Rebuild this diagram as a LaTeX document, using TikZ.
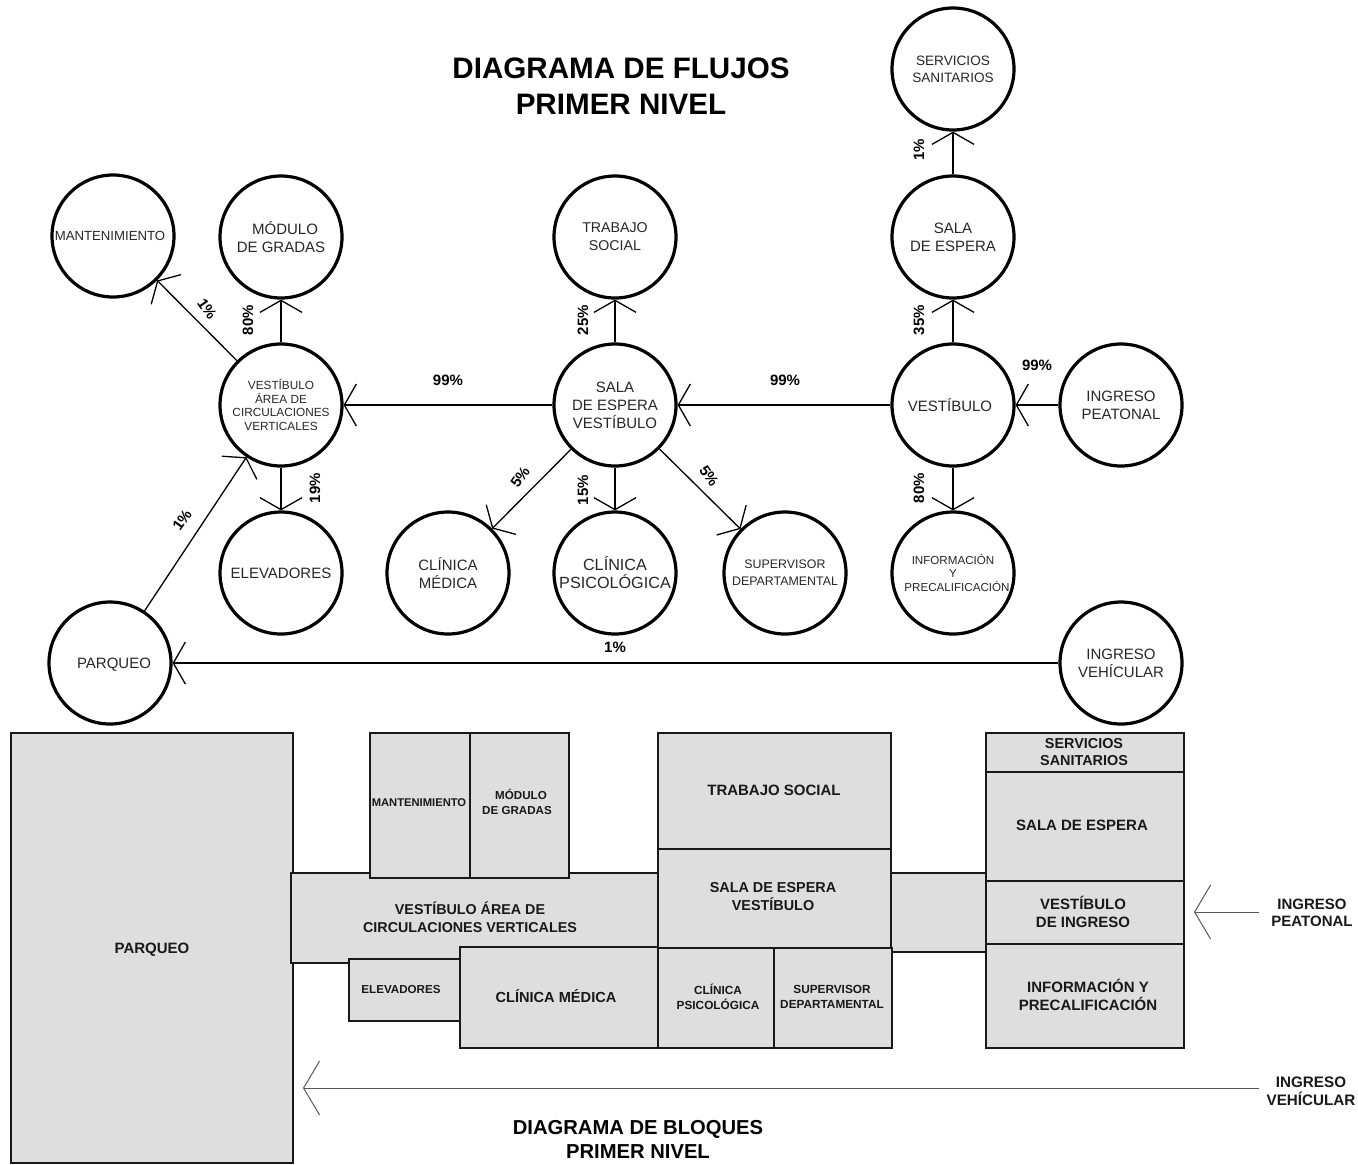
\documentclass[tikz,border=0pt]{standalone}
\usepackage{fontspec}
\setmainfont{Liberation Sans}
\usetikzlibrary{arrows.meta}
\tikzset{
  lugar/.style={draw, circle, line width=1.6pt, minimum size=61pt, inner sep=-5pt, align=center, text=black!85, font=\fontsize{7.5}{9}\selectfont},
  lugarmedio/.style={lugar, font=\fontsize{5.9}{6.7}\selectfont},
  lugarchico/.style={lugar, font=\fontsize{5.8}{6.6}\selectfont},
  flujo/.style={-{Straight Barb[length=6pt,width=21pt]}, line width=.65pt},
  ingreso/.style={-{Straight Barb[length=8pt,width=27pt]}, line width=.5pt, black!65},
  pct/.style={font=\fontsize{7.5}{9}\bfseries\selectfont, inner sep=0pt},
  bloque/.style={fill=black!13, draw=black!90, line width=1pt},
  txt/.style={font=\fontsize{7.5}{9}\bfseries\selectfont, align=center, inner sep=0pt, text=black!90},
  txtchico/.style={txt, font=\fontsize{5.8}{7.4}\bfseries\selectfont},
  titulo/.style={font=\fontsize{14.8}{18}\bfseries\selectfont, align=center, inner sep=0pt},
  subtitulo/.style={font=\fontsize{10.1}{12}\bfseries\selectfont, align=center, inner sep=0pt}
}
\begin{document}
\begin{tikzpicture}[x=0.5pt, y=-0.5pt]
\useasboundingbox (0, 0) rectangle (1358, 1164);

\node[titulo] (flujos) at (621, 86) {DIAGRAMA DE FLUJOS\\PRIMER NIVEL};

\node[lugar, font=\fontsize{6.6}{8}\selectfont] (mantenimiento) at (113, 236) {MANTENIMIENTO\kern3pt};
\node[lugar] (modulo) at (281, 237) {\kern4pt MÓDULO\\DE GRADAS};
\node[lugarmedio] (vestarea) at (281, 405) {VESTÍBULO\\ÁREA DE\\CIRCULACIONES\\VERTICALES};
\node[lugar] (elevadores) at (281, 573) {ELEVADORES};
\node[lugar] (parqueo) at (110, 663) {\kern4pt\vphantom{Ó}PARQUEO};
\node[lugar, font=\fontsize{7.1}{9}\selectfont] (trabajo) at (615, 237) {TRABAJO\\SOCIAL};
\node[lugar] (salavest) at (615, 405) {SALA\\DE ESPERA\\VESTÍBULO};
\node[lugar] (medica) at (448, 573) {CLÍNICA\\MÉDICA};
\node[lugar, font=\fontsize{8.1}{9}\selectfont] (psico) at (615, 573) {CLÍNICA\\PSICOLÓGICA};
\node[lugarchico, font=\fontsize{6.2}{8.4}\selectfont] (supervisor) at (785, 573) {SUPERVISOR\\DEPARTAMENTAL};
\node[lugar, font=\fontsize{6.8}{8.6}\selectfont] (sanitarios) at (953, 69) {SERVICIOS\\SANITARIOS};
\node[lugar] (sala) at (953, 237) {SALA\\DE ESPERA};
\node[lugar] (vestibulo) at (953, 405) {VESTÍBULO\kern3pt};
\node[lugarchico] (informacion) at (953, 573) {INFORMACIÓN\\Y\\\kern4pt PRECALIFICACIÓN};
\node[lugar] (peatonal) at (1121, 405) {INGRESO\\PEATONAL};
\node[lugar] (vehicular) at (1121, 663) {INGRESO\\VEHÍCULAR};

\draw[flujo] (vestarea) -- (mantenimiento);
\draw[flujo] (vestarea) -- (modulo);
\draw[flujo] (vestarea) -- (elevadores);
\draw[flujo] (parqueo) -- (vestarea);
\draw[flujo] (salavest) -- (vestarea);
\draw[flujo] (salavest) -- (trabajo);
\draw[flujo] (salavest) -- (medica);
\draw[flujo] (salavest) -- (psico);
\draw[flujo] (salavest) -- (supervisor);
\draw[flujo] (vestibulo) -- (salavest);
\draw[flujo] (vestibulo) -- (sala);
\draw[flujo] (sala) -- (sanitarios);
\draw[flujo] (vestibulo) -- (informacion);
\draw[flujo] (peatonal) -- (vestibulo);
\draw[flujo] (vehicular) -- (parqueo);

\node[pct, rotate=-55] (p1) at (207, 309) {1\%};
\node[pct, rotate=90] (p2) at (248, 320) {80\%};
\node[pct, rotate=90] (p3) at (315, 488) {19\%};
\node[pct, rotate=55] (p4) at (182, 520) {1\%};
\node[pct] (p5) at (448, 380) {99\%};
\node[pct] (p6) at (785, 380) {99\%};
\node[pct] (p7) at (1037, 365) {99\%};
\node[pct, rotate=90] (p8) at (583, 320) {25\%};
\node[pct, rotate=55] (p9) at (520, 477) {5\%};
\node[pct, rotate=90] (p10) at (583, 490) {15\%};
\node[pct, rotate=-55] (p11) at (709, 476) {5\%};
\node[pct, rotate=90] (p12) at (919, 320) {35\%};
\node[pct, rotate=90] (p13) at (919, 488) {80\%};
\node[pct, rotate=90] (p14) at (919, 150) {1\%};
\node[pct] (p15) at (615, 647) {1\%};

\filldraw[bloque] (11, 733) rectangle (293, 1163);
\filldraw[bloque] (291, 873) rectangle (658, 963);
\filldraw[bloque] (370, 733) rectangle (470, 878);
\filldraw[bloque] (470, 733) rectangle (569, 878);
\filldraw[bloque] (349, 959) rectangle (461, 1021);
\filldraw[bloque] (460, 947) rectangle (658, 1048);
\filldraw[bloque] (891, 873) rectangle (987, 952);
\filldraw[bloque] (658, 733) rectangle (891, 849);
\filldraw[bloque] (658, 849) rectangle (891, 948);
\filldraw[bloque] (658, 948) rectangle (774, 1048);
\filldraw[bloque] (774, 948) rectangle (892, 1048);
\filldraw[bloque] (986, 733) rectangle (1184, 772);
\filldraw[bloque] (986, 772) rectangle (1184, 881);
\filldraw[bloque] (986, 881) rectangle (1184, 944);
\filldraw[bloque] (986, 944) rectangle (1184, 1048);

\node[txt] (tparqueo) at (152, 950) {PARQUEO};
\node[txtchico, font=\fontsize{5.6}{7.4}\bfseries\selectfont] (tmant) at (419, 803) {MANTENIMIENTO};
\node[txtchico] (tmodulo) at (517, 802) {\kern4pt MÓDULO\\DE GRADAS};
\node[txt, font=\fontsize{7.15}{9}\bfseries\selectfont] (tvest) at (470, 917) {VESTÍBULO ÁREA DE\\CIRCULACIONES VERTICALES};
\node[txtchico] (televa) at (401, 989) {ELEVADORES};
\node[txt, font=\fontsize{7.3}{9}\bfseries\selectfont] (tmedica) at (556, 996) {CLÍNICA MÉDICA};
\node[txt] (ttrabajo) at (774, 790) {TRABAJO SOCIAL};
\node[txt, font=\fontsize{7.2}{9}\bfseries\selectfont] (tsala) at (773, 897) {SALA DE ESPERA\\VESTÍBULO};
\node[txtchico, font=\fontsize{5.9}{7.4}\bfseries\selectfont] (tpsico) at (718, 997) {CLÍNICA\\PSICOLÓGICA};
\node[txtchico, font=\fontsize{5.9}{7.4}\bfseries\selectfont] (tsuper) at (832, 997) {SUPERVISOR\\DEPARTAMENTAL};
\node[txt, font=\fontsize{7.2}{8.6}\bfseries\selectfont] (tsanit) at (1084, 752) {SERVICIOS\\SANITARIOS};
\node[txt] (tespera) at (1082, 825) {SALA DE ESPERA};
\node[txt] (tingreso) at (1083, 912) {VESTÍBULO\\DE INGRESO};
\node[txt] (tinfo) at (1088, 995) {INFORMACIÓN Y\\PRECALIFICACIÓN};
\node[txt, font=\fontsize{7.5}{8.7}\bfseries\selectfont] (tpeatonal) at (1312, 913) {INGRESO\\PEATONAL};
\node[txt, font=\fontsize{7.6}{9}\bfseries\selectfont] (tvehicular) at (1311, 1091) {INGRESO\\VEHÍCULAR};

\coordinate (a1) at (1259, 912);
\coordinate (b1) at (1194, 912);
\coordinate (a2) at (1259, 1088);
\coordinate (b2) at (303, 1088);
\draw[ingreso] (a1) -- (b1);
\draw[ingreso] (a2) -- (b2);

\node[subtitulo] (bloques) at (638, 1139) {DIAGRAMA DE BLOQUES\\PRIMER NIVEL};
\end{tikzpicture}
\end{document}
